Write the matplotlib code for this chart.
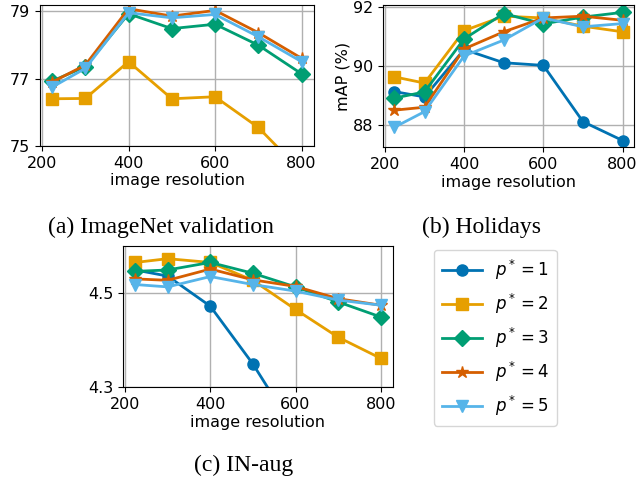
import matplotlib
matplotlib.use("Agg")
import matplotlib.pyplot as plt

resolutions = [224, 300, 400, 500, 600, 700, 800]
labels = ["$p^*=1$", "$p^*=2$", "$p^*=3$", "$p^*=4$", "$p^*=5$"]
colors = ["#0072B2", "#E69F00", "#009E73", "#D55E00", "#56B4E9"]
markers = ["o", "s", "D", "*", "v"]

# (a) ImageNet validation top-1 accuracy
imagenet_p1 = [74.0, 74.3, 74.6, 73.9, 73.5, 72.8, 72.0]
imagenet_p2 = [76.40, 76.41, 77.50, 76.40, 76.46, 75.55, 74.24]
imagenet_p3 = [76.93, 77.35, 78.92, 78.48, 78.61, 77.99, 77.14]
imagenet_p4 = [76.90, 77.40, 79.07, 78.85, 79.02, 78.36, 77.60]
imagenet_p5 = [76.75, 77.30, 78.95, 78.80, 78.90, 78.24, 77.50]

# (b) Holidays mAP
holidays_p1 = [89.13, 88.95, 90.56, 90.11, 90.02, 88.11, 87.47]
holidays_p2 = [89.63, 89.42, 91.20, 91.69, 91.63, 91.35, 91.16]
holidays_p3 = [88.91, 89.12, 90.92, 91.78, 91.43, 91.66, 91.82]
holidays_p4 = [88.50, 88.60, 90.58, 91.16, 91.63, 91.69, 91.55]
holidays_p5 = [87.92, 88.45, 90.34, 90.88, 91.63, 91.33, 91.44]

# (c) IN-aug
inaug_p1 = [4.549, 4.536, 4.472, 4.349, 4.205, 4.05, 3.90]
inaug_p2 = [4.565, 4.573, 4.565, 4.527, 4.465, 4.406, 4.361]
inaug_p3 = [4.546, 4.549, 4.565, 4.542, 4.513, 4.481, 4.449]
inaug_p4 = [4.530, 4.527, 4.551, 4.528, 4.514, 4.488, 4.474]
inaug_p5 = [4.518, 4.513, 4.535, 4.518, 4.504, 4.485, 4.474]

W, H = 638, 479
fig = plt.figure(figsize=(W / 100, H / 100), dpi=100)

def rect(l, t, r, b):
    return [l / W, 1 - b / H, (r - l) / W, (b - t) / H]

ax_a = fig.add_axes(rect(40, 5, 314, 146))
ax_b = fig.add_axes(rect(383, 5, 634, 147))
ax_c = fig.add_axes(rect(123, 246, 393, 387))

series = {
    ax_a: [imagenet_p1, imagenet_p2, imagenet_p3, imagenet_p4, imagenet_p5],
    ax_b: [holidays_p1, holidays_p2, holidays_p3, holidays_p4, holidays_p5],
    ax_c: [inaug_p1, inaug_p2, inaug_p3, inaug_p4, inaug_p5],
}

msizes = [8, 8, 8, 9, 8.5]
handles = []
for ax, data in series.items():
    hs = []
    for ys, c, m, lab, ms in zip(data, colors, markers, labels, msizes):
        h, = ax.plot(resolutions, ys, color=c, marker=m, markersize=ms,
                     linewidth=2, label=lab)
        hs.append(h)
    handles = hs
    ax.grid(True, color="#b0b0b0", linewidth=1)
    ax.set_axisbelow(True)
    ax.set_xticks([200, 400, 600, 800])
    ax.set_xlim(195.2, 828.8)
    ax.tick_params(labelsize=11.5)
    ax.set_xlabel("image resolution", fontsize=11.5, labelpad=2)

ax_a.set_ylim(75, 79.18)
ax_a.set_yticks([75, 77, 79])
ax_b.set_ylim(87.25, 92.07)
ax_b.set_yticks([88, 90, 92])
ax_b.set_ylabel("mAP (%)", fontsize=11.5, labelpad=2)
ax_c.set_ylim(4.3, 4.6)
ax_c.set_yticks([4.3, 4.5])

serif = ["Liberation Serif", "DejaVu Serif"]
fig.text(161 / W, 1 - 227 / H, "(a) ImageNet validation", ha="center", va="center",
         fontsize=17, family=serif)
fig.text(482 / W, 1 - 227 / H, "(b) Holidays", ha="center", va="center",
         fontsize=17, family=serif)
fig.text(244 / W, 1 - 465 / H, "(c) IN-aug", ha="center", va="center",
         fontsize=17, family=serif)

leg = fig.legend(handles=handles, loc="upper left",
                 bbox_to_anchor=(434 / W, 1 - 250 / H),
                 fontsize=12, frameon=True, handlelength=2.4,
                 labelspacing=0.6, borderpad=0.45, borderaxespad=0)
leg.get_frame().set_edgecolor("#cccccc")

fig.savefig("out.png", dpi=100)
